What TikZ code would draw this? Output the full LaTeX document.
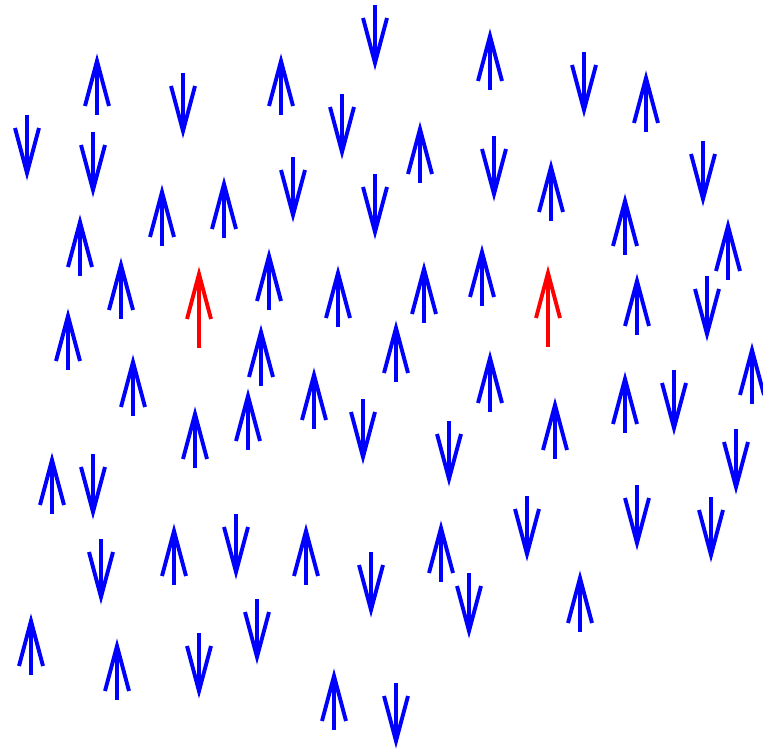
\documentclass[tikz,border=0pt]{standalone}
\usepackage{tikz}

\begin{document}
\begin{tikzpicture}[x=1pt,y=-1pt, spin/.style={draw=blue, line width=3.9pt}, flip/.style={draw=red, line width=3.9pt}]
\useasboundingbox (0,0) rectangle (763,751);
% up spins (x / tip)
\foreach \x/\y in {97/53, 281/53, 490/28, 646/70, 420/121, 162/184, 224/176, 551/159, 625/193, 80/214, 728/218,
  121/257, 269/248, 338/265, 424/261, 482/244, 637/273, 68/308, 261/324, 396/320, 133/354, 752/342, 490/350,
  314/367, 248/388, 195/406, 555/397, 625/371, 52/452, 174/523, 306/523, 441/520, 580/570, 31/613, 117/638, 334/668}
{ \draw[spin] (\x-12,\y+53) -- (\x,\y+8) -- (\x+12,\y+53); \draw[spin] (\x,\y+8) -- (\x,\y+62); }
% down spins (x / top)
\foreach \x/\y in {375/5, 183/73, 584/52, 27/115, 93/132, 342/94, 494/136, 703/141, 293/157, 375/174, 707/276,
  363/399, 449/421, 674/370, 93/454, 736/429, 527/496, 637/485, 711/497, 101/539, 236/514, 371/552, 469/573,
  199/633, 257/599, 396/683}
{ \draw[spin] (\x-12,\y+13) -- (\x,\y+58) -- (\x+12,\y+13); \draw[spin] (\x,\y) -- (\x,\y+58); }
% flipped spins
\foreach \x/\y in {199/266, 548/265}
{ \draw[flip] (\x-12,\y+53) -- (\x,\y+8) -- (\x+12,\y+53); \draw[flip] (\x,\y+8) -- (\x,\y+82); }
\end{tikzpicture}
\end{document}
